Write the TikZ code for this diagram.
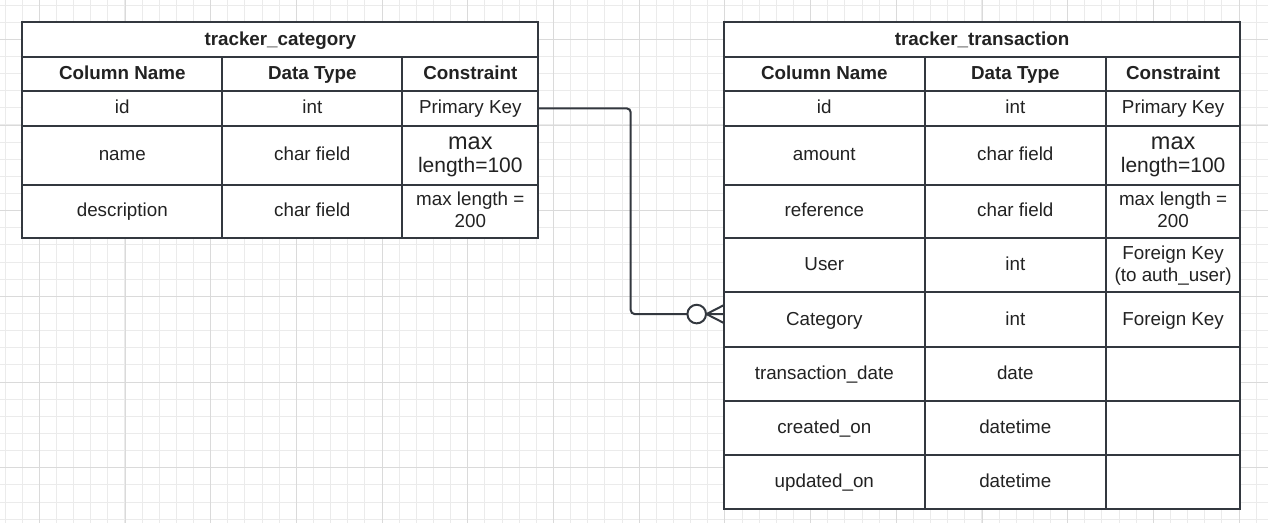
\documentclass[tikz,border=0pt]{standalone}
\usepackage{fontspec}
\setmainfont{Liberation Sans}
\usetikzlibrary{calc}
\definecolor{lineC}{HTML}{33383F}
\definecolor{txtC}{HTML}{222222}
\definecolor{gridMinor}{HTML}{EBEBEB}
\definecolor{gridMajor}{HTML}{DADADA}
\newcommand{\myBody}{\fontsize{18.8}{22}\selectfont}
\newcommand{\myBold}{\fontsize{18.8}{22}\selectfont\bfseries}
\newcommand{\ms}{\rule[-5.5pt]{0pt}{22pt}}
% one table row of three cells: name, top y, height, texts, style of third cell
\newcommand{\trow}[7]{%
  \node[cell, minimum width={(\xb-\xa)*1pt}, minimum height={#3*1pt}] (#1a) at (\xa,#2) {\ms#4};
  \node[cell, minimum width={(\xc-\xb)*1pt}, minimum height={#3*1pt}] (#1b) at (\xb,#2) {\ms#5};
  \node[cell, minimum width={(\xd-\xc)*1pt}, minimum height={#3*1pt}, #7] (#1c) at (\xc,#2) {\ms#6};
}
\tikzset{
  cell/.style={draw=lineC, line width=1.8pt, fill=white, text=txtC, inner sep=0pt, outer sep=0pt,
    anchor=north west, align=center, font=\myBody},
  headcell/.style={cell, font=\myBold},
  bigcell/.style={font=\fontsize{21}{23.3}\selectfont},
  conn/.style={draw=lineC, line width=2pt},
  gminor/.style={draw=gridMinor, line width=1pt},
  gmajor/.style={draw=gridMajor, line width=1pt},
}
\begin{document}
\begin{tikzpicture}[x=1pt, y=-1pt]
\useasboundingbox (0,0) rectangle (1268,523);
\fill[white] (0,0) rectangle (1268,523);
% grid
\foreach \k in {0,...,73} {
  \pgfmathsetmacro\gx{5.0+17.14*\k}
  \draw[gminor] (\gx,0) -- (\gx,523);
}
\foreach \k in {0,...,30} {
  \pgfmathsetmacro\gy{5.0+17.14*\k}
  \draw[gminor] (0,\gy) -- (1268,\gy);
}
\foreach \k in {0,...,14} {
  \pgfmathsetmacro\gx{39.3+85.7*\k}
  \draw[gmajor] (\gx,0) -- (\gx,523);
}
\foreach \k in {0,...,5} {
  \pgfmathsetmacro\gy{39.3+85.7*\k}
  \draw[gmajor] (0,\gy) -- (1268,\gy);
}
% left table
\def\xa{22.3}\def\xb{222.3}\def\xc{402.3}\def\xd{538.3}
\node[headcell, minimum width={(\xd-\xa)*1pt}, minimum height=34.4pt] (Ltitle) at (\xa,22.3) {\ms tracker\_category};
\node[headcell, minimum width={(\xb-\xa)*1pt}, minimum height=34.3pt] (Lheada) at (\xa,56.7) {\ms Column Name};
\node[headcell, minimum width={(\xc-\xb)*1pt}, minimum height=34.3pt] (Lheadb) at (\xb,56.7) {\ms Data Type};
\node[headcell, minimum width={(\xd-\xc)*1pt}, minimum height=34.3pt] (Lheadc) at (\xc,56.7) {\ms Constraint};
\trow{Lid}{91}{34.7}{id}{int}{Primary Key}{}
\trow{Lname}{125.7}{59}{name}{char field}{{\fontsize{23.5}{23.3}\selectfont max}\\\ms length=100}{bigcell}
\trow{Ldesc}{184.7}{53.3}{description}{char field}{max length =\\\ms 200}{}
% right table
\def\xa{724}\def\xb{924.6}\def\xc{1106}\def\xd{1240.3}
\node[headcell, minimum width={(\xd-\xa)*1pt}, minimum height=34.4pt] (Rtitle) at (\xa,22.3) {\ms tracker\_transaction};
\node[headcell, minimum width={(\xb-\xa)*1pt}, minimum height=34.3pt] (Rheada) at (\xa,56.7) {\ms Column Name};
\node[headcell, minimum width={(\xc-\xb)*1pt}, minimum height=34.3pt] (Rheadb) at (\xb,56.7) {\ms Data Type};
\node[headcell, minimum width={(\xd-\xc)*1pt}, minimum height=34.3pt] (Rheadc) at (\xc,56.7) {\ms Constraint};
\trow{Rid}{91}{34.7}{id}{int}{Primary Key}{}
\trow{Ramount}{125.7}{59}{amount}{char field}{{\fontsize{23.5}{23.3}\selectfont max}\\\ms length=100}{bigcell}
\trow{Rref}{184.7}{53.3}{reference}{char field}{max length =\\\ms 200}{}
\trow{Ruser}{238}{54.3}{User}{int}{Foreign Key\\\ms (to auth\_user)}{}
\trow{Rcat}{292.3}{54.4}{Category}{int}{Foreign Key}{}
\trow{Rtdate}{346.7}{54.3}{transaction\_date}{date}{}{}
\trow{Rcreated}{401}{54.3}{created\_on}{datetime}{}{}
\trow{Rupdated}{455.3}{53.4}{updated\_on}{datetime}{}{}
% connector
\coordinate (catin) at ($(Rcata.north west)!0.4!(Rcata.south west)$);
\coordinate (bend) at (630.7,0);
\draw[conn, rounded corners=4pt] (Lidc.east) -| (bend |- catin) -- (catin);
\draw[conn] ($(catin)+(-17.5,0)$) -- ($(catin)+(0,-9)$);
\draw[conn] ($(catin)+(-17.5,0)$) -- ($(catin)+(0,9)$);
\draw[conn, fill=white] ($(catin)+(-27.3,0)$) circle[radius=9.3pt];
\end{tikzpicture}
\end{document}
